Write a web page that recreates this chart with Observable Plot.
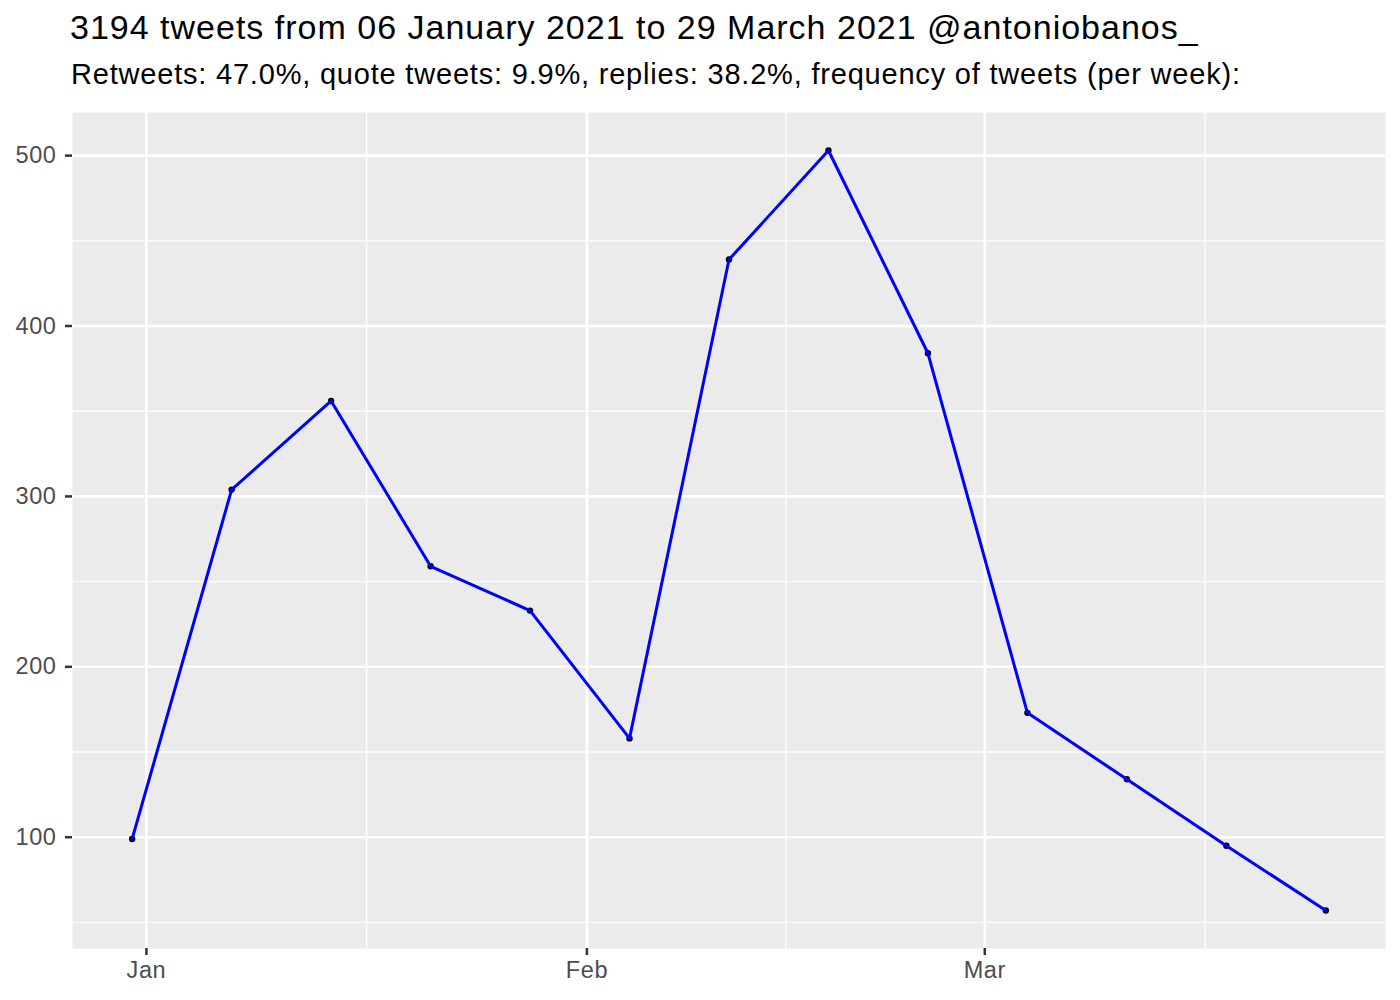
<!DOCTYPE html>
<html>
<head>
<meta charset="utf-8">
<script src="https://cdn.jsdelivr.net/npm/d3@7"></script>
<script src="https://cdn.jsdelivr.net/npm/@observablehq/plot@0.6"></script>
<style>
  html, body { margin: 0; padding: 0; background: #fff; }
  body { width: 1400px; height: 1000px; position: relative; font-family: "Liberation Sans", Arial, sans-serif; }
  #title { position: absolute; left: 70px; top: 8px; font-size: 34px; letter-spacing: 1px; line-height: normal; color: #000; white-space: nowrap; }
  #subtitle { position: absolute; left: 71px; top: 58px; font-size: 29px; letter-spacing: 0.8px; line-height: normal; color: #000; white-space: nowrap; }
  #chart { position: absolute; left: 0; top: 100px; }
  #chart svg text { letter-spacing: 0.6px; }
</style>
</head>
<body>
<div id="title">3194 tweets from 06 January 2021 to 29 March 2021 @antoniobanos_</div>
<div id="subtitle">Retweets: 47.0%, quote tweets: 9.9%, replies: 38.2%, frequency of tweets (per week):</div>
<div id="chart"></div>
<script>
// Data
const weeks = ["2020-12-31","2021-01-07","2021-01-14","2021-01-21","2021-01-28","2021-02-04","2021-02-11","2021-02-18","2021-02-25","2021-03-04","2021-03-11","2021-03-18","2021-03-25"];
const tweets = [99, 304, 356, 259, 233, 158, 439, 503, 384, 173, 134, 95, 57];
const xTickDates = ["2021-01-01","2021-02-01","2021-03-01"];
const xTickLabels = ["Jan","Feb","Mar"];
const xMinorDates = ["2021-01-16T12:00","2021-02-15","2021-03-16T12:00"];
const yTicks = [100, 200, 300, 400, 500];
const yMinor = [50, 150, 250, 350, 450];

const data = weeks.map((w, i) => ({date: new Date(w + "T00:00Z"), n: tweets[i]}));
const parse = s => new Date(s + (s.length > 10 ? "Z" : "T00:00Z"));

// ggplot-like 5% expansion
const [x0, x1] = d3.extent(data, d => +d.date);
const xpad = (x1 - x0) * 0.05;
const [y0, y1] = d3.extent(tweets);
const ypad = (y1 - y0) * 0.05;

const chart = Plot.plot({
  width: 1400,
  height: 900,
  marginLeft: 72,
  marginRight: 15,
  marginTop: 12,
  marginBottom: 52,
  style: {fontFamily: "'Liberation Sans', Arial, sans-serif", fontSize: "23.5px", background: "transparent"},
  x: {type: "utc", domain: [new Date(x0 - xpad), new Date(x1 + xpad)]},
  y: {domain: [y0 - ypad, y1 + ypad]},
  marks: [
    Plot.frame({fill: "#EBEBEB", stroke: "none"}),
    Plot.ruleY(yMinor, {stroke: "#fff", strokeWidth: 1.3}),
    Plot.ruleX(xMinorDates.map(parse), {stroke: "#fff", strokeWidth: 1.3}),
    Plot.ruleY(yTicks, {stroke: "#fff", strokeWidth: 2.6}),
    Plot.ruleX(xTickDates.map(parse), {stroke: "#fff", strokeWidth: 2.6}),
    Plot.axisY({ticks: yTicks, tickSize: 7, tickPadding: 9, stroke: "#333", strokeWidth: 2.5, fill: "#4D4D4D", fontSize: 23.5, label: null}),
    Plot.axisX({ticks: xTickDates.map(parse), tickFormat: (d, i) => xTickLabels[i], tickSize: 7, tickPadding: 6, stroke: "#333", strokeWidth: 2.5, fill: "#4D4D4D", fontSize: 23.5, label: null}),
    Plot.dot(data, {x: "date", y: "n", r: 3.2, fill: "#000", stroke: "none"}),
    Plot.line(data, {x: "date", y: "n", stroke: "#0000FF", strokeWidth: 3})
  ]
});
document.getElementById("chart").appendChild(chart);
</script>
</body>
</html>
